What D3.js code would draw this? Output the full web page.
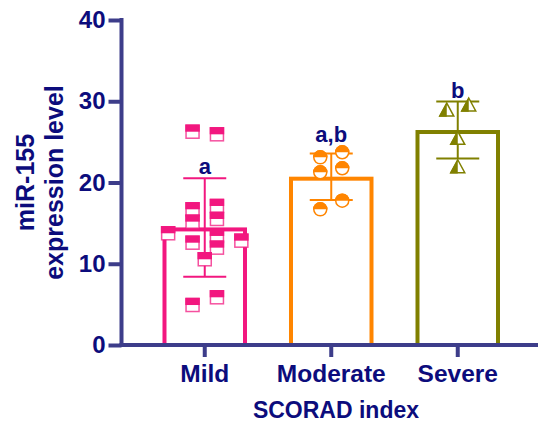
<!DOCTYPE html>
<html>
<head>
<meta charset="utf-8">
<script src="https://cdn.jsdelivr.net/npm/d3@7"></script>
<style>
    body { margin: 0; background: #fff; }
    svg { display: block; font-family: "Liberation Sans", Arial, sans-serif; font-weight: bold; }
</style>
</head>
<body>
<div id="chart"></div>
<script>
// groups on the x axis
var groups = ["Mild", "Moderate", "Severe"];

// individual miR-155 values
var mildValues = [26.25, 25.93, 16.70, 17.11, 15.18, 15.51, 13.75, 12.84, 12.59, 13.42, 11.98, 10.55, 4.92, 5.87];
var moderateValues = [23.10, 23.72, 21.26, 21.75, 17.76, 16.70];
var severeValues = [28.92, 29.54, 25.44, 21.94];

// scatter column of each point (left/right of the bar centre)
var mildSlots = [-1, 1, -1, 1, -1, 1, -3, 3, -1, 1, 1, 0, -1, 1];
var moderateSlots = [-0.9, 0.9, -0.9, 0.9, 0.9, -0.9];
var severeSlots = [-0.9, 0.9, 0, 0];

// significance letters and the value where they sit
var letters = ["a", "a,b", "b"];
var letterAt = [21.1, 25.0, 30.4];

var yTicks = [0, 10, 20, 30, 40];

var width = 538,
    height = 423,
    navy = "#0c0c7c",
    axisColor = "#3d3d8a",
    colors = ["#f2177f", "#ff8500", "#808000"],
    shapes = ["square", "circle", "triangle"];

var values = [mildValues, moderateValues, severeValues],
    slots = [mildSlots, moderateSlots, severeSlots];

var svg = d3.select("#chart")
    .append("svg")
    .attr("width", width)
    .attr("height", height);

var x = d3.scaleBand()
    .domain(groups)
    .range([141.5, 521])
    .paddingInner(0.332)
    .paddingOuter(0.166);

var y = d3.scaleLinear()
    .domain([0, 40])
    .range([345, 20]);

var axisX0 = 121.5;

//Bars (outline drawn inside the bar)
groups.forEach(function(g, i) {
    var m = d3.mean(values[i]);
    svg.append("rect")
        .attr("x", x(g) + 2)
        .attr("y", y(m) + 2)
        .attr("width", x.bandwidth() - 4)
        .attr("height", y(0) - y(m) - 2)
        .attr("fill", "#fff")
        .attr("stroke", colors[i])
        .attr("stroke-width", 4);
});

//Error bars, mean +/- SD
groups.forEach(function(g, i) {
    var m = d3.mean(values[i]),
        sd = d3.deviation(values[i]),
        cx = x(g) + x.bandwidth() / 2,
        eb = svg.append("g")
            .attr("stroke", colors[i])
            .attr("stroke-width", 2);
    eb.append("line")
        .attr("x1", cx).attr("x2", cx)
        .attr("y1", y(m + sd)).attr("y2", y(m - sd));
    [m + sd, m - sd].forEach(function(v) {
        eb.append("line")
            .attr("x1", cx - 21.5).attr("x2", cx + 21.5)
            .attr("y1", y(v)).attr("y2", y(v));
    });
});

//Points, half filled markers
var unit = 12.2;
groups.forEach(function(g, i) {
    var cx0 = x(g) + x.bandwidth() / 2,
        c = colors[i];
    values[i].forEach(function(v, j) {
        var px = cx0 + slots[i][j] * unit,
            py = y(v),
            mk = svg.append("g").attr("transform", "translate(" + px + "," + py + ")");
        if (shapes[i] === "square") {
            mk.append("rect")
                .attr("x", -6.5).attr("y", -6.5)
                .attr("width", 13).attr("height", 13)
                .attr("fill", "#fff")
                .attr("stroke", c)
                .attr("stroke-opacity", 0.75)
                .attr("stroke-width", 1.5);
            mk.append("rect")
                .attr("x", -7.25).attr("y", -7.25)
                .attr("width", 14.5).attr("height", 7.25)
                .attr("fill", c);
        } else if (shapes[i] === "circle") {
            mk.append("circle")
                .attr("r", 6.5)
                .attr("fill", "#fff")
                .attr("stroke", c)
                .attr("stroke-width", 1.5);
            mk.append("path")
                .attr("d", "M-7.25,0A7.25,7.25 0 0 1 7.25,0Z")
                .attr("fill", c);
        } else {
            mk.append("path")
                .attr("d", "M0,-7L7,6L-7,6Z")
                .attr("fill", "#fff")
                .attr("stroke", c)
                .attr("stroke-width", 1.5)
                .attr("stroke-linejoin", "miter");
            mk.append("path")
                .attr("d", "M0,-7.8L0,6.75L-8,6.75Z")
                .attr("fill", c);
        }
    });
});

//Significance letters
groups.forEach(function(g, i) {
    svg.append("text")
        .attr("x", x(g) + x.bandwidth() / 2)
        .attr("y", y(letterAt[i]))
        .attr("text-anchor", "middle")
        .attr("font-size", "22px")
        .attr("fill", navy)
        .text(letters[i]);
});

//Y axis
var yAxis = svg.append("g")
    .attr("transform", "translate(" + axisX0 + ",0)")
    .call(d3.axisLeft(y).tickValues(yTicks).tickSize(13).tickSizeOuter(0).tickPadding(3));
yAxis.select(".domain")
    .attr("stroke", axisColor)
    .attr("stroke-width", 4)
    .attr("d", "M0," + (y(40) - 2) + "V" + (y(0) + 2));
yAxis.selectAll(".tick line")
    .attr("stroke", axisColor)
    .attr("stroke-width", 4);
yAxis.selectAll(".tick text")
    .attr("fill", navy)
    .attr("font-size", "24px")
    .attr("font-family", "Liberation Sans, Arial, sans-serif")
    .attr("font-weight", "bold");

//X axis
var xAxis = svg.append("g")
    .attr("transform", "translate(0," + y(0) + ")")
    .call(d3.axisBottom(x).tickSize(12).tickSizeOuter(0).tickPadding(8));
xAxis.select(".domain")
    .attr("stroke", axisColor)
    .attr("stroke-width", 4)
    .attr("d", "M" + (axisX0 - 2) + ",0H" + width);
xAxis.selectAll(".tick line")
    .attr("stroke", axisColor)
    .attr("stroke-width", 4);
xAxis.selectAll(".tick text")
    .attr("fill", navy)
    .attr("font-size", "24.5px")
    .attr("font-family", "Liberation Sans, Arial, sans-serif")
    .attr("font-weight", "bold");

//Axis titles
svg.append("text")
    .attr("x", 336)
    .attr("y", 418)
    .attr("text-anchor", "middle")
    .attr("font-size", "23px")
    .attr("fill", navy)
    .text("SCORAD index");

var yTitle = svg.append("text")
    .attr("transform", "translate(0," + ((y(0) + y(40)) / 2) + ") rotate(-90)")
    .attr("text-anchor", "middle")
    .attr("font-size", "25px")
    .attr("fill", navy);
yTitle.append("tspan").attr("x", 0).attr("y", 34).text("miR-155");
yTitle.append("tspan").attr("x", 0).attr("y", 63).text("expression level");
</script>
</body>
</html>
